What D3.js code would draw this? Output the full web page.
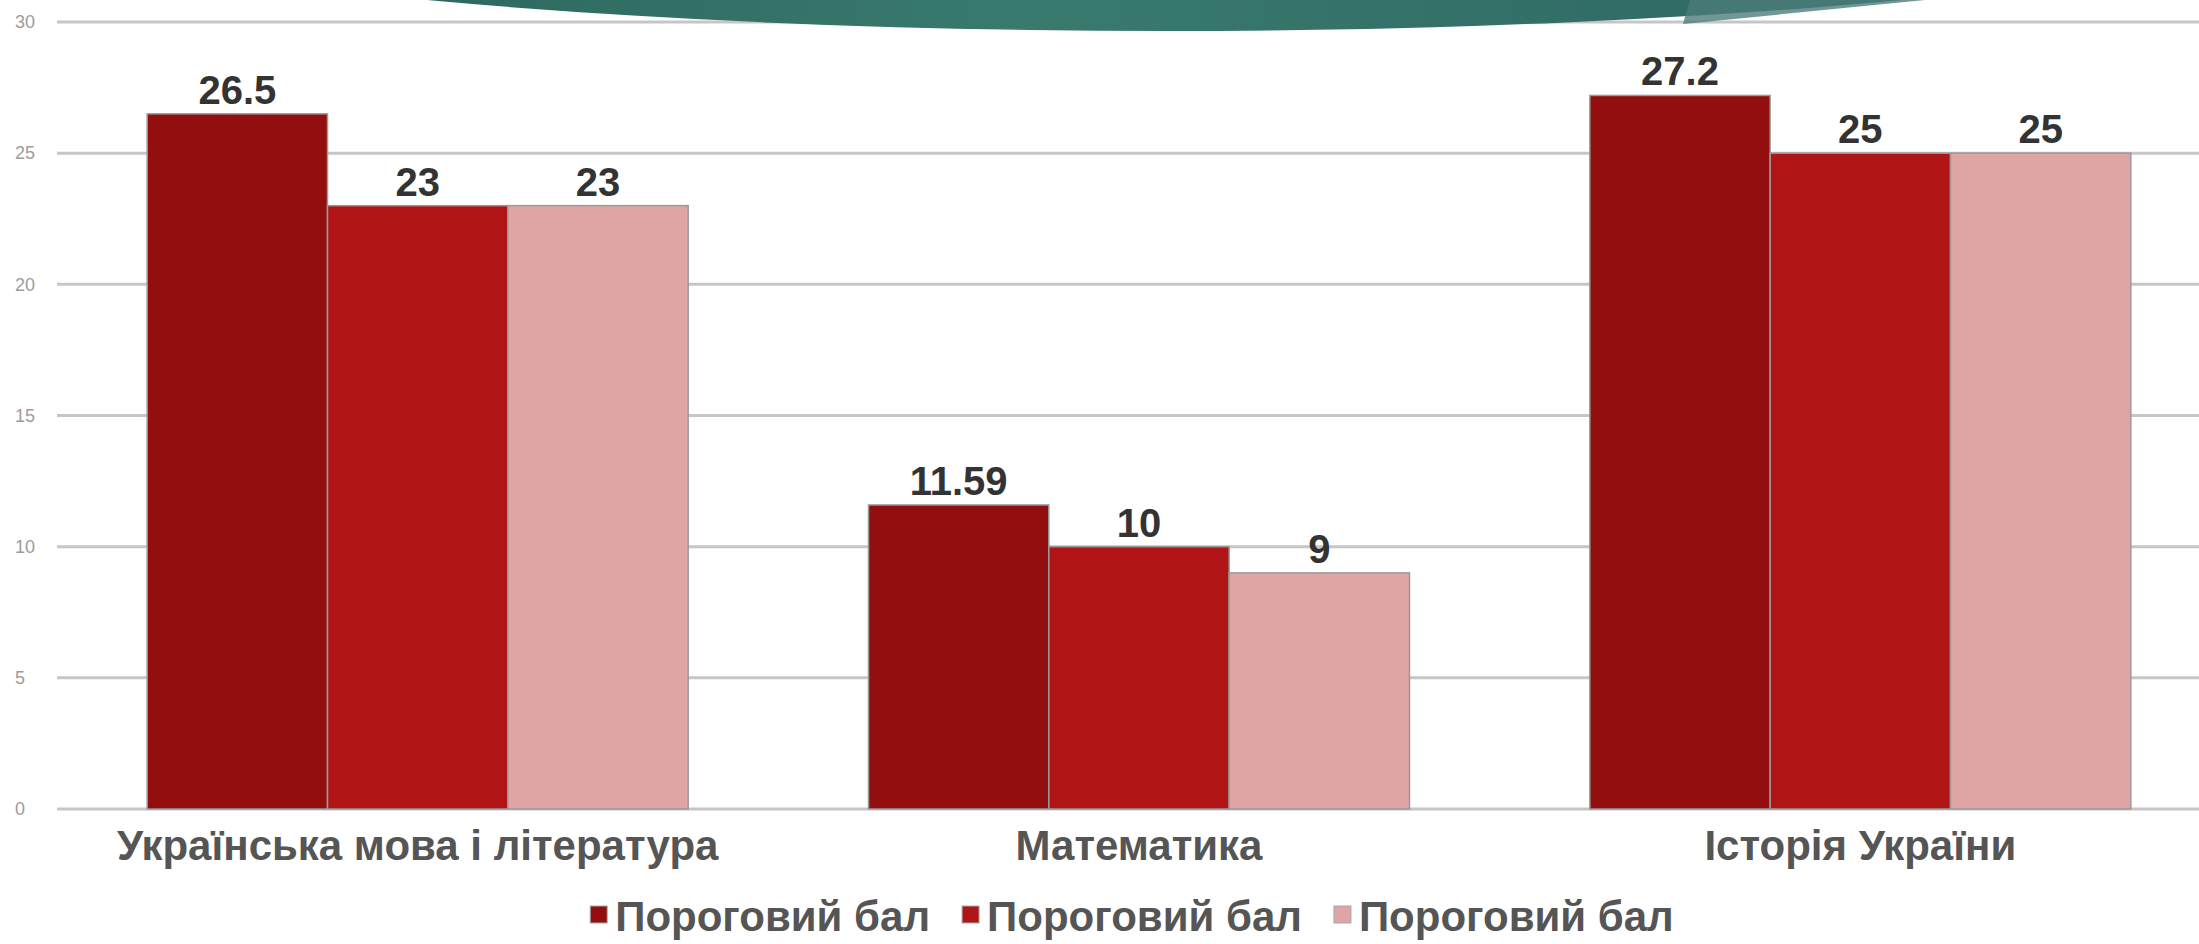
<!DOCTYPE html>
<html>
<head>
<meta charset="utf-8">
<script src="https://cdn.jsdelivr.net/npm/d3@7"></script>
<style>
  html, body { margin: 0; padding: 0; background: #fff; }
  svg { display: block; font-family: "Liberation Sans", Arial, sans-serif; }
</style>
</head>
<body>
<svg id="chart"></svg>
<script>
(function () {
  const categories = ['Українська мова і література', 'Математика', 'Історія України'];
  const seriesNames = ['Пороговий бал', 'Пороговий бал', 'Пороговий бал'];
  const series1 = [26.5, 11.59, 27.2];
  const series2 = [23, 10, 25];
  const series3 = [23, 9, 25];
  const yTicks = [0, 5, 10, 15, 20, 25, 30];
  const colors = ['#930f0f', '#b11414', '#dfa4a4'];

  const values = [series1, series2, series3];
  const width = 2199;
  const height = 944;

  const svg = d3.select('#chart').attr('width', width).attr('height', height);

  // decorative teal shape from the slide header
  const defs = svg.append('defs');
  const grad = defs.append('linearGradient').attr('id', 'teal').attr('x1', '0%').attr('x2', '100%');
  grad.append('stop').attr('offset', '0%').attr('stop-color', '#1f5650');
  grad.append('stop').attr('offset', '45%').attr('stop-color', '#3a7a6e');
  grad.append('stop').attr('offset', '85%').attr('stop-color', '#2a6360');
  grad.append('stop').attr('offset', '100%').attr('stop-color', '#1d4f50');

  const y = d3.scaleLinear().domain([0, 30]).range([809, 22]);
  const x0 = d3.scaleBand().domain(categories).range([57, 2221]).paddingInner(0.25).paddingOuter(0.125);
  const x1 = d3.scaleBand().domain(d3.range(values.length)).range([0, x0.bandwidth()]);

  // gridlines
  svg.append('g')
    .selectAll('line')
    .data(yTicks)
    .enter()
    .append('line')
    .attr('x1', 57)
    .attr('x2', width)
    .attr('y1', function (d) { return y(d); })
    .attr('y2', function (d) { return y(d); })
    .attr('stroke', '#c6c6c6')
    .attr('stroke-width', 3);

  svg.append('ellipse')
    .attr('cx', 1165).attr('cy', 31 - 200)
    .attr('rx', 1380).attr('ry', 200)
    .attr('fill', 'url(#teal)');
  svg.append('path')
    .attr('d', 'M1690,0 L1925,0 L1683,24 Z')
    .attr('fill', '#4c7d7b')
    .attr('opacity', 0.8);

  svg.append('g')
    .selectAll('text')
    .data(yTicks)
    .enter()
    .append('text')
    .attr('x', 15)
    .attr('y', function (d) { return y(d); })
    .attr('dy', '0.35em')
    .attr('font-size', 18)
    .attr('fill', '#9c9c9c')
    .text(function (d) { return d; });

  // bars
  const groups = svg.append('g')
    .selectAll('g')
    .data(categories)
    .enter()
    .append('g')
    .attr('transform', function (d) { return 'translate(' + x0(d) + ',0)'; });

  groups.selectAll('rect')
    .data(function (d, i) { return values.map(function (s, k) { return { k: k, v: s[i] }; }); })
    .enter()
    .append('rect')
    .attr('x', function (d) { return x1(d.k); })
    .attr('y', function (d) { return y(d.v); })
    .attr('width', x1.bandwidth())
    .attr('height', function (d) { return y(0) - y(d.v); })
    .attr('fill', function (d) { return colors[d.k]; })
    .attr('stroke', '#9a9a9a')
    .attr('stroke-width', 1.5);

  groups.selectAll('text')
    .data(function (d, i) { return values.map(function (s, k) { return { k: k, v: s[i] }; }); })
    .enter()
    .append('text')
    .attr('x', function (d) { return x1(d.k) + x1.bandwidth() / 2; })
    .attr('y', function (d) { return y(d.v) - 10; })
    .attr('text-anchor', 'middle')
    .attr('font-size', 40)
    .attr('font-weight', 'bold')
    .attr('fill', '#333')
    .text(function (d) { return String(d.v); });

  // category labels
  svg.append('g')
    .selectAll('text')
    .data(categories)
    .enter()
    .append('text')
    .attr('x', function (d) { return x0(d) + x0.bandwidth() / 2; })
    .attr('y', 860)
    .attr('text-anchor', 'middle')
    .attr('font-size', 42)
    .attr('font-weight', 'bold')
    .attr('fill', '#555')
    .text(function (d) { return d; });

  // legend
  const legend = svg.append('g');
  const items = legend.selectAll('g')
    .data(seriesNames)
    .enter()
    .append('g');
  items.append('rect')
    .attr('width', 17).attr('height', 17)
    .attr('y', -25)
    .attr('fill', function (d, i) { return colors[i]; })
    .attr('stroke', '#aaa')
    .attr('stroke-width', 1);
  items.append('text')
    .attr('x', 25)
    .attr('font-size', 42)
    .attr('font-weight', 'bold')
    .attr('fill', '#555')
    .text(function (d) { return d; });

  let offset = 0;
  const widths = [];
  items.each(function () {
    const w = d3.select(this).select('text').node().getComputedTextLength() + 25;
    widths.push(w);
  });
  const gap = 32;
  const total = d3.sum(widths) + gap * (widths.length - 1);
  const start = 1132 - total / 2;
  items.attr('transform', function (d, i) {
    const t = 'translate(' + (start + offset) + ',931)';
    offset += widths[i] + gap;
    return t;
  });
})();
</script>
</body>
</html>
